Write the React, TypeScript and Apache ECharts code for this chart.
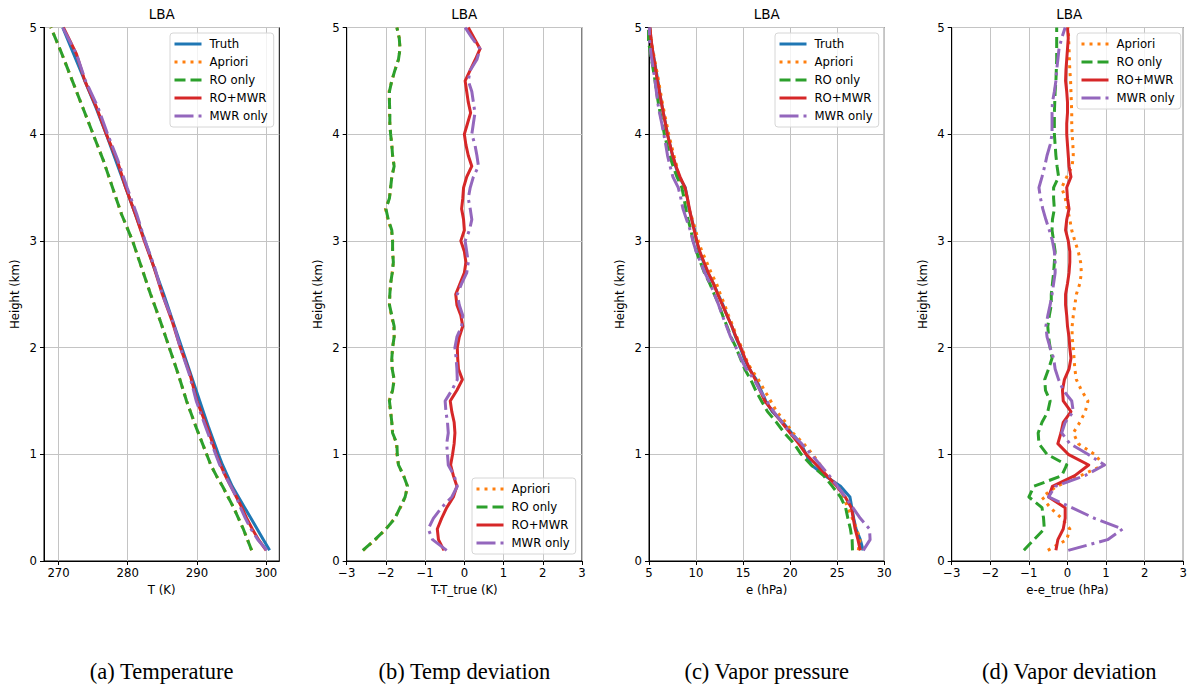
import React, { useEffect, useRef } from "react";
import * as echarts from "echarts";

// Heights (km)
const H = [0.1, 0.2, 0.3, 0.4, 0.5, 0.6, 0.7, 0.8, 0.9, 1.0, 1.1, 1.2, 1.3, 1.4, 1.5, 1.6, 1.7, 1.8, 1.9, 2.0, 2.1, 2.2, 2.3, 2.4, 2.5, 2.6, 2.7, 2.8, 2.9, 3.0, 3.1, 3.2, 3.3, 3.4, 3.5, 3.6, 3.7, 3.8, 3.9, 4.0, 4.1, 4.2, 4.3, 4.4, 4.5, 4.6, 4.7, 4.8, 4.9, 5.0];
const HA = [0.1, 0.2, 0.3, 0.4, 0.5, 0.6, 0.7, 0.8, 0.9, 1.0, 1.25, 1.5, 1.75, 2.0, 2.25, 2.5, 2.75, 3.0, 3.25, 3.5, 3.75, 4.0, 4.25, 4.5, 4.75, 5.0];

// (a) Temperature (K)
const T_TRUTH = [300.5, 299.6, 298.7, 297.8, 296.9, 296.0, 295.1, 294.4, 293.7, 293.1, 291.7, 290.4, 289.1, 287.8, 286.5, 285.2, 283.8, 282.5, 281.1, 279.7, 278.3, 276.9, 275.4, 273.8, 272.2, 270.6];
const T_APRIORI = [297.9, 297.3, 296.7, 296.0, 295.3, 294.5, 293.7, 292.8, 292.0, 291.4, 289.9, 288.5, 287.3, 286.0, 284.7, 283.3, 282.0, 280.7, 279.1, 277.8, 276.5, 275.0, 273.5, 272.0, 270.5, 268.9];
const T_RO = [297.9, 297.3, 296.7, 296.0, 295.3, 294.5, 293.7, 292.8, 292.0, 291.4, 289.9, 288.5, 287.3, 286.0, 284.7, 283.3, 282.0, 280.7, 279.1, 277.8, 276.5, 275.0, 273.5, 272.0, 270.5, 268.9];
const T_ROMWR = [300.0, 298.9, 298.0, 297.2, 296.5, 295.7, 294.9, 294.1, 293.4, 292.8, 291.5, 290.0, 289.0, 287.6, 286.4, 285.0, 283.8, 282.4, 281.1, 279.7, 278.5, 276.9, 275.5, 273.8, 272.6, 270.7];
const T_MWR = [300.1, 298.8, 297.8, 297.0, 296.3, 295.7, 294.9, 294.1, 293.3, 292.7, 291.3, 289.9, 288.9, 287.6, 286.5, 285.0, 283.9, 282.5, 281.3, 279.9, 278.6, 277.1, 275.7, 273.9, 272.6, 270.6];

// (b) Temperature deviation (K)
const DT_APRIORI = [-2.58, -2.27, -2.0, -1.78, -1.63, -1.51, -1.45, -1.55, -1.68, -1.72, -1.73, -1.83, -1.85, -1.88, -1.92, -1.83, -1.79, -1.84, -1.85, -1.83, -1.79, -1.80, -1.86, -1.91, -1.90, -1.88, -1.84, -1.81, -1.83, -1.83, -1.86, -1.95, -2.01, -1.91, -1.88, -1.85, -1.79, -1.83, -1.85, -1.88, -1.90, -1.91, -1.91, -1.92, -1.85, -1.77, -1.68, -1.64, -1.66, -1.72];
const DT_RO = [-2.59, -2.28, -2.0, -1.77, -1.64, -1.51, -1.45, -1.55, -1.68, -1.71, -1.72, -1.83, -1.85, -1.88, -1.91, -1.83, -1.79, -1.84, -1.85, -1.83, -1.79, -1.79, -1.85, -1.91, -1.90, -1.88, -1.84, -1.81, -1.83, -1.83, -1.85, -1.94, -2.0, -1.91, -1.88, -1.85, -1.79, -1.83, -1.85, -1.88, -1.90, -1.90, -1.91, -1.91, -1.85, -1.77, -1.68, -1.64, -1.66, -1.72];
const DT_ROMWR = [-0.52, -0.66, -0.69, -0.58, -0.45, -0.28, -0.19, -0.28, -0.35, -0.30, -0.26, -0.24, -0.26, -0.32, -0.36, -0.19, -0.05, -0.15, -0.17, -0.18, -0.13, -0.04, -0.09, -0.19, -0.22, -0.11, 0.0, 0.04, 0.0, -0.09, 0.0, -0.02, -0.07, -0.04, -0.02, 0.06, 0.19, 0.10, 0.04, 0.0, 0.08, 0.16, 0.10, 0.06, 0.02, 0.15, 0.28, 0.40, 0.25, 0.10];
const DT_MWR = [-0.45, -0.81, -0.92, -0.79, -0.58, -0.32, -0.18, -0.26, -0.41, -0.43, -0.45, -0.41, -0.43, -0.47, -0.49, -0.32, -0.18, -0.19, -0.21, -0.24, -0.19, -0.07, -0.04, -0.13, -0.18, -0.07, 0.06, 0.10, 0.06, 0.02, 0.13, 0.19, 0.15, 0.10, 0.15, 0.23, 0.36, 0.32, 0.27, 0.19, 0.23, 0.27, 0.23, 0.19, 0.10, 0.15, 0.32, 0.40, 0.20, 0.02];

// (c) Vapor pressure (hPa)
const E_TRUTH = [27.75, 27.45, 27.0, 26.75, 26.55, 26.35, 25.35, 23.7, 22.25, 21.7, 21.15, 20.15, 19.2, 18.1, 17.4, 16.9, 16.4, 15.65, 15.1, 14.7, 14.2, 13.8, 13.3, 12.85, 12.35, 11.85, 11.25, 10.8, 10.35, 10.05, 9.85, 9.55, 9.25, 9.08, 8.85, 8.2, 7.83, 7.5, 7.23, 6.97, 6.76, 6.52, 6.31, 6.12, 5.94, 5.75, 5.55, 5.35, 5.19, 5.1];
const E_APRIORI = [27.24, 27.43, 27.06, 26.6, 26.1, 25.69, 25.07, 24.04, 23.19, 22.4, 21.43, 20.3, 19.52, 18.56, 17.93, 17.26, 16.63, 15.84, 15.27, 14.85, 14.32, 13.92, 13.45, 13.04, 12.58, 12.17, 11.61, 11.14, 10.63, 10.24, 9.96, 9.61, 9.25, 9.02, 8.7, 8.18, 7.95, 7.65, 7.37, 7.09, 6.87, 6.63, 6.41, 6.21, 6.02, 5.81, 5.6, 5.39, 5.22, 5.12];
const E_RO = [26.62, 26.58, 26.4, 26.13, 25.89, 25.35, 24.48, 23.55, 22.23, 21.17, 20.41, 19.39, 18.54, 17.59, 16.95, 16.33, 15.81, 15.16, 14.7, 14.25, 13.71, 13.29, 12.83, 12.43, 11.93, 11.46, 10.89, 10.46, 10.03, 9.69, 9.45, 9.16, 8.91, 8.72, 8.49, 7.97, 7.56, 7.2, 6.91, 6.63, 6.42, 6.18, 5.98, 5.8, 5.64, 5.46, 5.27, 5.07, 4.91, 4.82];
const E_ROMWR = [27.45, 27.2, 26.9, 26.7, 26.5, 25.85, 24.95, 23.9, 22.8, 21.7, 20.9, 20.0, 19.1, 18.2, 17.3, 16.8, 16.3, 15.7, 15.2, 14.75, 14.25, 13.8, 13.3, 12.8, 12.3, 11.85, 11.3, 10.85, 10.4, 10.07, 9.8, 9.54, 9.3, 9.08, 8.83, 8.3, 7.87, 7.52, 7.23, 6.95, 6.74, 6.52, 6.31, 6.1, 5.89, 5.71, 5.53, 5.35, 5.21, 5.1];
const E_MWR = [27.77, 28.49, 28.43, 27.45, 26.66, 25.86, 25.03, 24.15, 23.21, 22.23, 21.21, 20.0, 19.14, 18.25, 17.51, 16.79, 16.17, 15.33, 14.74, 14.25, 13.67, 13.24, 12.79, 12.4, 11.95, 11.49, 10.93, 10.48, 10.01, 9.66, 9.38, 8.99, 8.61, 8.38, 8.11, 7.54, 7.24, 6.97, 6.78, 6.57, 6.36, 6.12, 5.92, 5.78, 5.64, 5.47, 5.3, 5.13, 5.04, 5.04];

// (d) Vapor pressure deviation (hPa)
const DE_APRIORI = [-0.51, -0.02, 0.06, -0.15, -0.45, -0.66, -0.28, 0.34, 0.94, 0.70, 0.28, 0.15, 0.32, 0.46, 0.53, 0.36, 0.23, 0.19, 0.17, 0.15, 0.12, 0.12, 0.15, 0.19, 0.23, 0.32, 0.36, 0.34, 0.28, 0.19, 0.11, 0.06, 0.0, -0.06, -0.15, -0.02, 0.12, 0.15, 0.14, 0.12, 0.11, 0.11, 0.10, 0.09, 0.08, 0.06, 0.05, 0.04, 0.03, 0.02];
const DE_RO = [-1.13, -0.87, -0.60, -0.62, -0.66, -1.0, -0.87, -0.15, -0.02, -0.53, -0.74, -0.76, -0.66, -0.51, -0.45, -0.57, -0.59, -0.49, -0.40, -0.45, -0.49, -0.51, -0.47, -0.42, -0.42, -0.39, -0.36, -0.34, -0.32, -0.36, -0.40, -0.39, -0.34, -0.36, -0.36, -0.23, -0.27, -0.30, -0.32, -0.34, -0.34, -0.34, -0.33, -0.32, -0.30, -0.29, -0.28, -0.28, -0.28, -0.28];
const DE_ROMWR = [-0.30, -0.25, -0.11, -0.06, -0.06, -0.49, -0.39, 0.19, 0.55, 0.02, -0.25, -0.17, -0.11, 0.09, -0.11, -0.13, -0.08, 0.04, 0.09, 0.06, 0.04, 0.0, -0.02, -0.05, -0.05, 0.0, 0.04, 0.06, 0.06, 0.02, -0.05, -0.02, 0.04, 0.0, -0.02, 0.09, 0.04, 0.02, 0.0, -0.02, -0.02, 0.0, 0.0, -0.02, -0.05, -0.04, -0.02, 0.0, 0.02, 0.0];
const DE_MWR = [0.02, 1.04, 1.43, 0.70, 0.11, -0.49, -0.32, 0.45, 0.96, 0.53, 0.06, -0.15, -0.06, 0.15, 0.11, -0.11, -0.23, -0.32, -0.36, -0.45, -0.53, -0.56, -0.51, -0.45, -0.40, -0.36, -0.32, -0.32, -0.34, -0.39, -0.47, -0.56, -0.64, -0.70, -0.74, -0.66, -0.59, -0.53, -0.45, -0.40, -0.40, -0.40, -0.39, -0.34, -0.30, -0.28, -0.25, -0.22, -0.15, -0.06];

const TITLES = ["LBA", "LBA", "LBA", "LBA"];
const CAPTIONS = ["(a) Temperature", "(b) Temp deviation", "(c) Vapor pressure", "(d) Vapor deviation"];
const X_NAMES = ["T (K)", "T-T_true (K)", "e (hPa)", "e-e_true (hPa)"];
const Y_NAME = "Height (km)";
const LEGEND_5 = ["Truth", "Apriori", "RO only", "RO+MWR", "MWR only"];
const LEGEND_4 = ["Apriori", "RO only", "RO+MWR", "MWR only"];
const T_TICKS = [270, 280, 290, 300];

const STYLES: Record<string, { color: string; type: any }> = {
  Truth: { color: "#1f77b4", type: "solid" },
  Apriori: { color: "#ff7f0e", type: [3, 5] },
  "RO only": { color: "#2ca02c", type: [11, 5] },
  "RO+MWR": { color: "#d62728", type: "solid" },
  "MWR only": { color: "#9467bd", type: [19, 5, 3, 5] },
};

const FONT = "DejaVu Sans";
const FS = 11.7;
const GRIDS = [
  { left: 44, top: 27.5, width: 235.3, height: 533.5 },
  { left: 346.7, top: 27.5, width: 235.3, height: 533.5 },
  { left: 649, top: 27.5, width: 235.3, height: 533.5 },
  { left: 951.7, top: 27.5, width: 235.3, height: 533.5 },
];

function line(name: string, xs: number[], hs: number[], idx: number) {
  const s = STYLES[name];
  return {
    type: "line",
    name,
    xAxisIndex: idx,
    yAxisIndex: idx,
    data: xs.map((v, i) => [v, hs[i]]),
    symbol: "none",
    showSymbol: false,
    clip: true,
    color: s.color,
    lineStyle: { color: s.color, width: 3, type: s.type, cap: "butt", join: "round" },
    emphasis: { disabled: true },
    silent: true,
  };
}

const minus = (v: number) => String(v).replace("-", "\u2212");

function xAxis(idx: number, name: string, extra: any) {
  return {
    type: "value",
    gridIndex: idx,
    name,
    nameLocation: "middle",
    nameGap: 22,
    nameTextStyle: { fontFamily: FONT, fontSize: FS, color: "#000" },
    axisLine: { show: true, onZero: false, lineStyle: { color: "#000", width: 1 } },
    axisTick: { show: true, length: 4, lineStyle: { color: "#000", width: 1 } },
    axisLabel: { fontFamily: FONT, fontSize: FS, color: "#000", margin: 6, formatter: minus, showMinLabel: true, showMaxLabel: true },
    splitLine: { show: true, lineStyle: { color: "#c4c4c4", width: 1 } },
    ...extra,
  };
}

function yAxis(idx: number) {
  return {
    type: "value",
    gridIndex: idx,
    min: 0,
    max: 5,
    interval: 1,
    name: Y_NAME,
    nameLocation: "middle",
    nameGap: 23,
    nameTextStyle: { fontFamily: FONT, fontSize: FS, color: "#000" },
    axisLine: { show: true, onZero: false, lineStyle: { color: "#000", width: 1 } },
    axisTick: { show: true, length: 4, lineStyle: { color: "#000", width: 1 } },
    axisLabel: { fontFamily: FONT, fontSize: FS, color: "#000", margin: 7 },
    splitLine: { show: true, lineStyle: { color: "#c4c4c4", width: 1 } },
  };
}

function legend(data: string[], left: number, top: number) {
  return {
    data,
    left,
    top,
    orient: "vertical",
    selectedMode: false,
    backgroundColor: "rgba(255,255,255,0.8)",
    borderColor: "#d6d6d6",
    borderWidth: 1,
    borderRadius: 3,
    padding: [5, 6, 5, 3],
    itemWidth: 27,
    itemHeight: 12,
    itemGap: 6,
    itemStyle: { opacity: 0 },
    lineStyle: { width: 3 },
    textStyle: { fontFamily: FONT, fontSize: FS, color: "#000", padding: [0, 0, 0, 3] },
  };
}

export default function App() {
  const ref = useRef<HTMLDivElement>(null);
  useEffect(() => {
    const chart = echarts.init(ref.current!, null, { renderer: "svg" });
    const centers = GRIDS.map((g) => g.left + g.width / 2);
    const option: any = {
      animation: false,
      backgroundColor: "#fff",
      textStyle: { fontFamily: FONT },
      grid: GRIDS.map((g) => ({ ...g, show: true, borderColor: "#000", borderWidth: 1, backgroundColor: "transparent" })),
      title: [
        ...TITLES.map((t, i) => ({
          text: t,
          left: centers[i],
          top: 7,
          textAlign: "center",
          padding: 0,
          textStyle: { fontFamily: FONT, fontSize: 13.5, fontWeight: "normal", color: "#000" },
        })),
        ...CAPTIONS.map((t, i) => ({
          text: t,
          left: centers[i],
          top: 659,
          textAlign: "center",
          padding: 0,
          textStyle: { fontFamily: "Liberation Serif", fontSize: 22.5, lineHeight: 24, fontWeight: "normal", color: "#000" },
        })),
      ],
      xAxis: [
        xAxis(0, X_NAMES[0], {
          min: 267.9,
          max: 301.9,
          axisTick: { show: true, length: 4, customValues: T_TICKS, lineStyle: { color: "#000", width: 1 } },
          axisLabel: { fontFamily: FONT, fontSize: FS, color: "#000", margin: 6, customValues: T_TICKS },
        }),
        xAxis(1, X_NAMES[1], { min: -3, max: 3, interval: 1 }),
        xAxis(2, X_NAMES[2], { min: 5, max: 30, interval: 5 }),
        xAxis(3, X_NAMES[3], { min: -3, max: 3, interval: 1 }),
      ],
      yAxis: [yAxis(0), yAxis(1), yAxis(2), yAxis(3)],
      legend: [
        legend(LEGEND_5, 170, 33),
        legend(LEGEND_4, 472, 478),
        legend(LEGEND_5, 775, 33),
        legend(LEGEND_4, 1077, 33),
      ],
      series: [
        line("Truth", T_TRUTH, HA, 0),
        line("Apriori", T_APRIORI, HA, 0),
        line("RO only", T_RO, HA, 0),
        line("RO+MWR", T_ROMWR, HA, 0),
        line("MWR only", T_MWR, HA, 0),
        line("Apriori", DT_APRIORI, H, 1),
        line("RO only", DT_RO, H, 1),
        line("RO+MWR", DT_ROMWR, H, 1),
        line("MWR only", DT_MWR, H, 1),
        line("Truth", E_TRUTH, H, 2),
        line("Apriori", E_APRIORI, H, 2),
        line("RO only", E_RO, H, 2),
        line("RO+MWR", E_ROMWR, H, 2),
        line("MWR only", E_MWR, H, 2),
        line("Apriori", DE_APRIORI, H, 3),
        line("RO only", DE_RO, H, 3),
        line("RO+MWR", DE_ROMWR, H, 3),
        line("MWR only", DE_MWR, H, 3),
      ],
    };
    chart.setOption(option);
    return () => chart.dispose();
  }, []);
  return (
    <div
      ref={ref}
      style={{ position: "fixed", left: 0, top: 0, width: 1190, height: 685, background: "#fff" }}
    />
  );
}
